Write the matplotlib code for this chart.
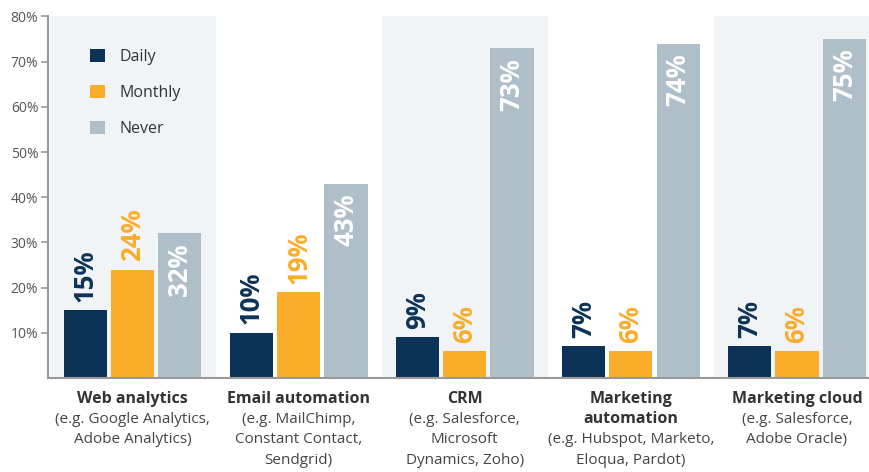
import matplotlib.pyplot as plt
from matplotlib.patches import Patch
import numpy as np

# ====== data ======
categories = ["Web analytics", "Email automation", "CRM", "Marketing\nautomation", "Marketing cloud"]
subtitles = [
    "(e.g. Google Analytics,\nAdobe Analytics)",
    "(e.g. MailChimp,\nConstant Contact,\nSendgrid)",
    "(e.g. Salesforce,\nMicrosoft\nDynamics, Zoho)",
    "(e.g. Hubspot, Marketo,\nEloqua, Pardot)",
    "(e.g. Salesforce,\nAdobe Oracle)",
]
series = ["Daily", "Monthly", "Never"]
daily = [15, 10, 9, 7, 7]
monthly = [24, 19, 6, 6, 6]
never = [32, 43, 73, 74, 75]
yticks = [10, 20, 30, 40, 50, 60, 70, 80]

colors = ["#0c3357", "#f9ad2b", "#aebfca"]
band_color = "#f1f4f7"
font = ["Open Sans", "DejaVu Sans"]
plt.rcParams['font.family'] = font

fig = plt.figure(figsize=(8.7, 4.72), dpi=100)
ax = fig.add_axes([0.0552, 0.1992, 0.9448, 0.766])

x = np.arange(len(categories))
width = 0.26
offset = 0.285

# alternating background bands
for i in x[::2]:
    ax.axvspan(i - 0.5, i + 0.5, ymin=0, ymax=1, color=band_color, zorder=0, lw=0)

values = [daily, monthly, never]
for k, vals in enumerate(values):
    xs = x + (k - 1) * offset
    ax.bar(xs, vals, width=width, color=colors[k], zorder=2)
    for xi, v in zip(xs, vals):
        if k < 2:
            ax.annotate(f"{v}%", (xi, v), xytext=(0, 6), textcoords="offset points",
                        rotation=90, ha="center", va="bottom", fontsize=18.5,
                        fontweight="bold", color=colors[k])
        else:
            ax.annotate(f"{v}%", (xi, v), xytext=(0, -7), textcoords="offset points",
                        rotation=90, ha="center", va="top", fontsize=18.5,
                        fontweight="bold", color="white")

# category labels
for i, (cat, sub) in enumerate(zip(categories, subtitles)):
    lines = [(l, "bold") for l in cat.split("\n")] + [(l, "normal") for l in sub.split("\n")]
    for j, (txt, w) in enumerate(lines):
        ax.annotate(txt, (i, 0), xycoords="data", xytext=(0, -(21 + 20.5 * j) * 0.72),
                    textcoords="offset points", ha="center", va="center",
                    fontsize=11.5 if w == "bold" else 11, fontweight=w,
                    color="#333333" if w == "bold" else "#444444", annotation_clip=False)

ax.set_xlim(-0.509, 4.44)
ax.set_ylim(0, 80)
ax.set_xticks([])
ax.set_yticks(yticks)
ax.set_yticklabels([f"{t}%" for t in yticks], fontsize=10, color="#555555")
ax.tick_params(axis="y", length=5, width=1.2, color="#999999", pad=2)

for s in ["top", "right"]:
    ax.spines[s].set_visible(False)
for s in ["left", "bottom"]:
    ax.spines[s].set_color("#999999")
    ax.spines[s].set_linewidth(1.5)
ax.set_facecolor("white")

handles = [Patch(facecolor=c, edgecolor="none") for c in colors]
ax.legend(handles, series, loc="upper left", bbox_to_anchor=(0.034, 0.95), frameon=False,
          fontsize=11.5, handlelength=0.9, handleheight=0.9, handletextpad=0.9,
          labelspacing=1.25, labelcolor="#333333")

plt.savefig("out.png", dpi=100)
